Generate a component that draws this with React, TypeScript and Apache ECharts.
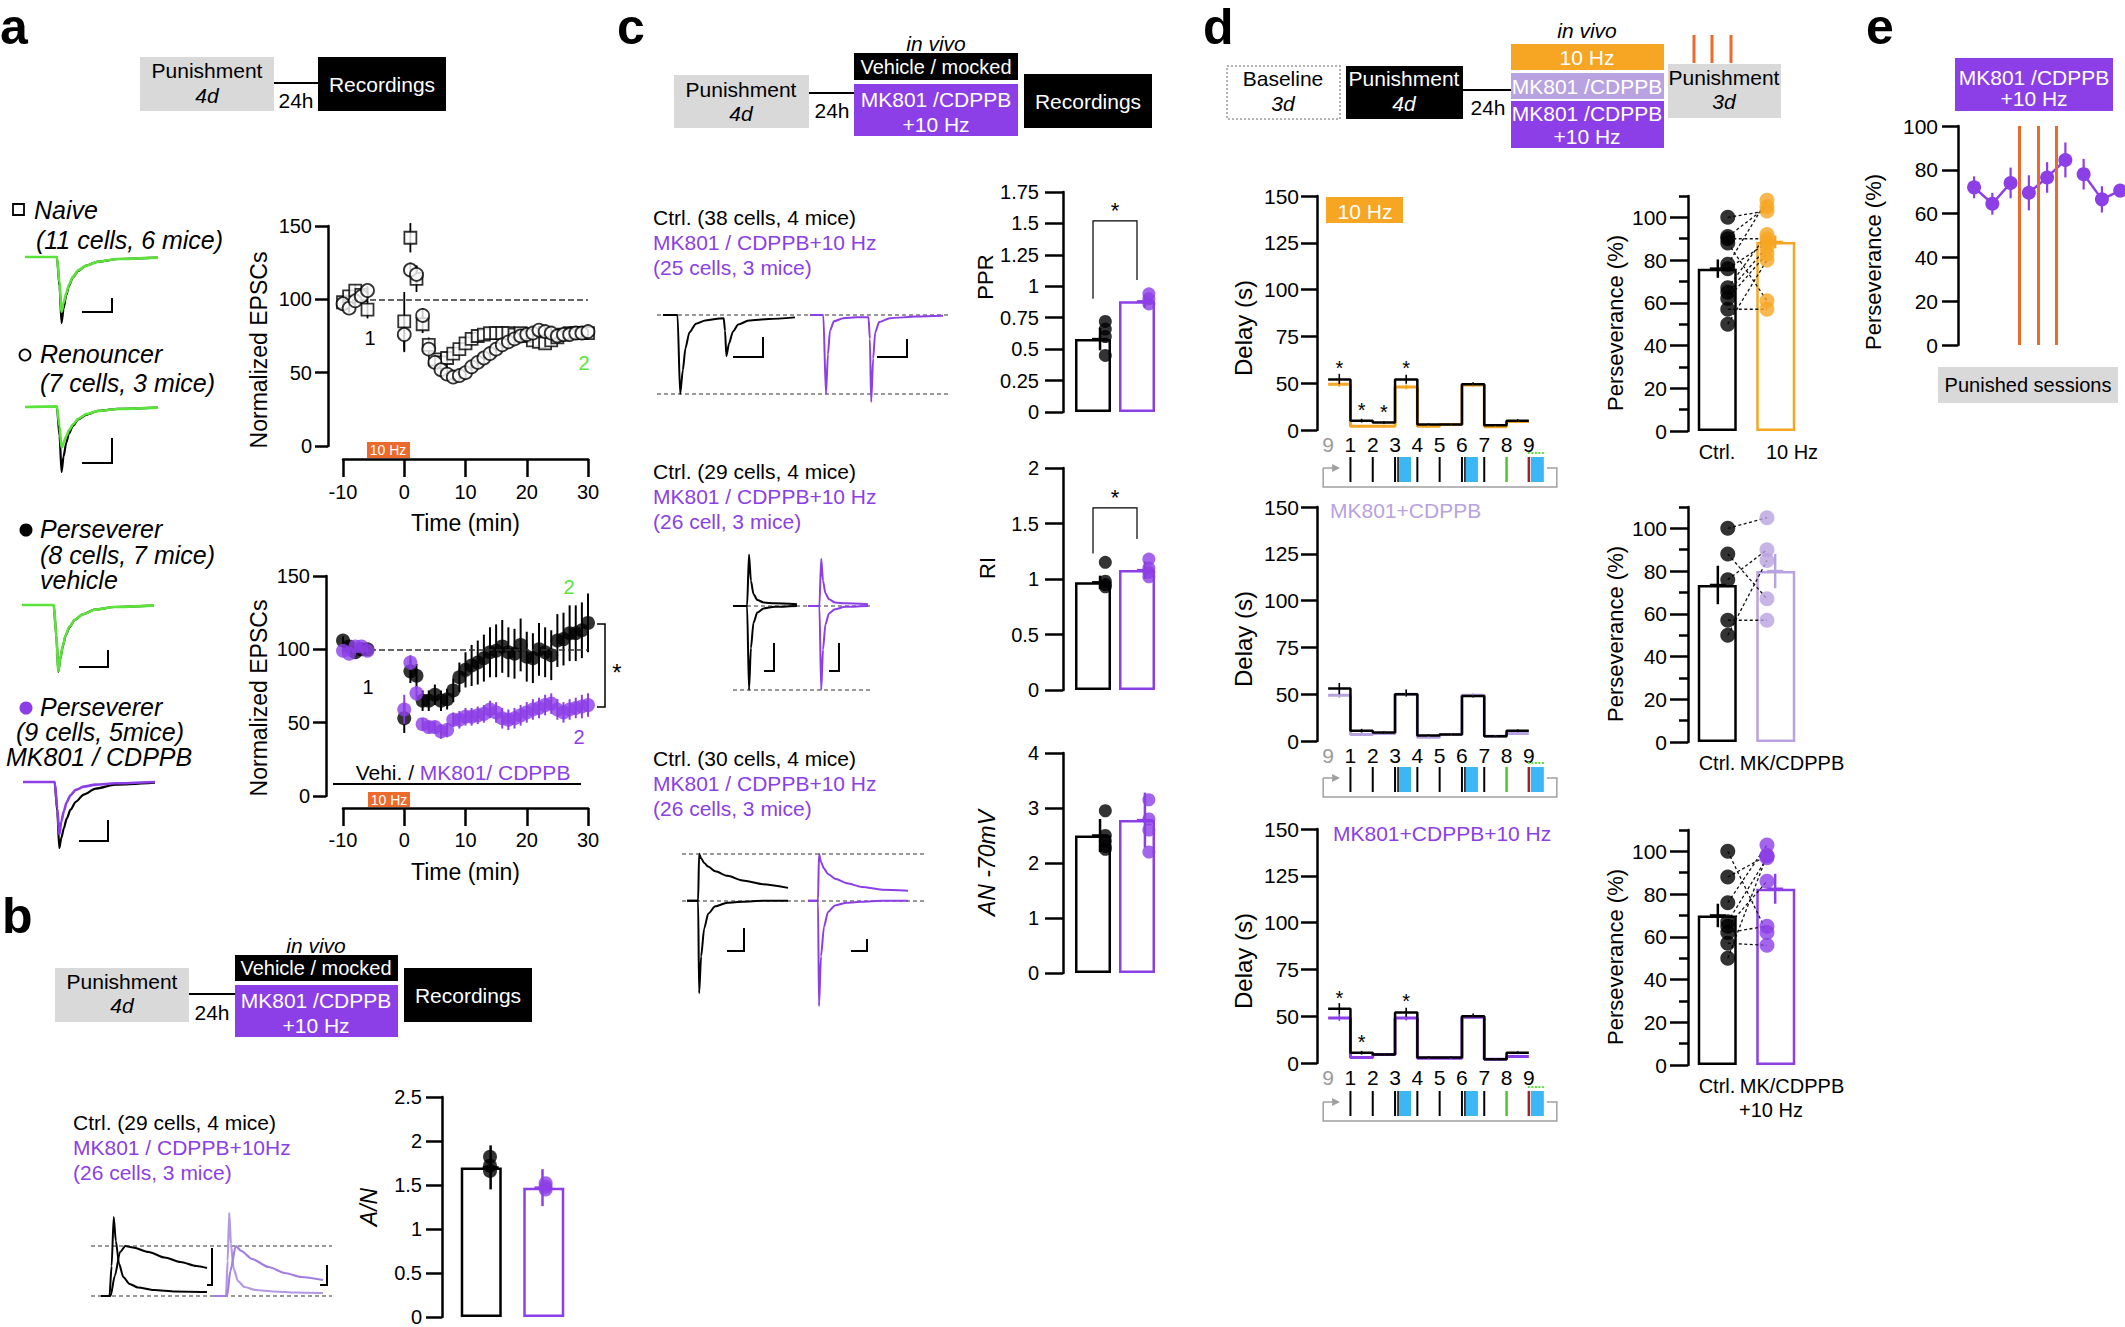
import React, { useEffect, useRef } from "react";
import * as echarts from "echarts";

const F = "Liberation Sans";
const BLACK = "#000000";
const PURPLE = "#8C3FE6";
const LAVENDER = "#B9A2E0";
const ORANGE = "#F6A623";
const RED_ORANGE = "#EC6A2C";
const GREEN = "#5BE33C";
const BLUE = "#3CB6F5";
const GRAYBOX = "#D9D9D9";

// ---------------- panel a : time courses ----------------
const aBaseT = [-10, -9, -8, -7, -6];
const aPostT = [0, 1, 2, 3, 4, 5, 6, 7, 8, 9, 10, 11, 12, 13, 14, 15, 16, 17, 18, 19, 20, 21, 22, 23, 24, 25, 26, 27, 28, 29, 30];
const naiveBase = [98, 102, 106, 103, 93];
const naiveBaseErr = [3, 3, 4, 3, 6];
const naivePost = [85, 142, 114, 83, 69, 59, 57, 60, 63, 66, 70, 73, 75, 76, 77, 77, 77, 77, 76, 77, 75, 72, 71, 70, 72, 74, 76, 77, 77, 77, 77];
const naivePostErr = [20, 10, 9, 6, 5, 4, 4, 4, 4, 4, 4, 4, 4, 4, 4, 4, 4, 3, 3, 3, 3, 3, 3, 3, 3, 3, 3, 2, 2, 2, 2];
const renBase = [97, 94, 99, 102, 106];
const renBaseErr = [3, 3, 3, 3, 3];
const renPost = [76, 120, 117, 89, 66, 57, 52, 49, 47, 48, 50, 54, 57, 60, 63, 66, 69, 71, 73, 75, 76, 77, 79, 78, 77, 75, 76, 76, 77, 77, 78];
const renPostErr = [12, 5, 6, 5, 4, 4, 3, 3, 3, 3, 3, 3, 3, 3, 3, 3, 3, 3, 3, 3, 3, 3, 3, 3, 3, 3, 2, 2, 2, 2, 2];
const pvBase = [106, 102, 98, 100, 100];
const pvBaseErr = [3, 3, 3, 3, 3];
const pvPost = [53, 85, 82, 65, 65, 69, 65, 66, 72, 81, 86, 89, 91, 94, 98, 99, 102, 98, 97, 103, 95, 94, 100, 98, 96, 106, 107, 111, 111, 113, 118];
const pvPostErr = [10, 8, 8, 7, 7, 7, 7, 7, 8, 10, 12, 14, 15, 16, 17, 18, 18, 17, 17, 18, 17, 17, 18, 17, 17, 18, 18, 19, 19, 19, 20];
const pmBase = [99, 97, 102, 102, 99];
const pmBaseErr = [2, 2, 2, 2, 2];
const pmPost = [59, 91, 70, 49, 47, 47, 44, 45, 52, 52, 54, 54, 55, 56, 59, 57, 53, 52, 53, 55, 57, 59, 60, 62, 63, 59, 57, 59, 60, 61, 62];
const pmPostErr = [10, 5, 5, 4, 4, 4, 5, 5, 5, 6, 6, 6, 6, 6, 6, 7, 7, 7, 7, 7, 7, 7, 7, 7, 7, 7, 7, 7, 7, 8, 8];

// panel a example EPSC traces (normalised amplitude)
const epscT = [0, 24, 26, 27.5, 29, 31, 33, 36, 40, 46, 55, 70, 100];
const naiveBlackTr = [0, 0, -45, -100, -78, -58, -44, -31, -21, -13, -7, -3, -1];
const naiveGreenTr = [0, 0, -40, -83, -70, -55, -42, -30, -20, -13, -7, -3, -1];
const renBlackTr = [0, 0, -45, -100, -76, -55, -41, -29, -19, -12, -6, -3, -1];
const renGreenTr = [0, 1, -30, -63, -55, -45, -36, -27, -18, -11, -6, -3, -1];
const pvBlackTr = [0, 0, -45, -100, -80, -61, -46, -33, -22, -14, -7, -3, -1];
const pvGreenTr = [0, 0, -45, -99, -79, -60, -45, -32, -22, -14, -7, -3, -1];
const pmBlackTr = [0, 0, -45, -100, -85, -70, -56, -42, -30, -19, -10, -4, -1];
const pmPurpleTr = [0, 0, -40, -80, -60, -44, -31, -20, -12, -7, -4, -2, 0];

// ---------------- panel b ----------------
const bFastT = [0, 8, 10, 12, 14, 17, 21, 27, 35, 50, 70, 100];
const bBlackFast = [0, 0, 60, 158, 110, 65, 38, 24, 17, 12, 9, 8];
const bSlowT = [0, 9, 13, 18, 23, 30, 45, 60, 75, 90, 100];
const bBlackSlow = [0, 0, 40, 88, 100, 97, 88, 77, 68, 60, 56];
const bPFastT = [0, 11, 12.5, 14, 15.5, 18, 22, 28, 38, 55, 75, 100];
const bPurpleFast = [0, 0, 70, 166, 105, 55, 30, 18, 12, 9, 7, 6];
const bPSlowT = [0, 12, 15, 20, 25, 35, 50, 65, 80, 100];
const bPurpleSlow = [0, 0, 50, 100, 90, 74, 58, 46, 38, 32];
const anRatioCtrl = { mean: 1.7, sem: 0.25, dots: [1.82, 1.72, 1.66] };
const anRatioMk = { mean: 1.47, sem: 0.21, dots: [1.52, 1.48, 1.45] };

// ---------------- panel c ----------------
const pprBT = [0, 11, 13, 15, 17, 20, 25, 32, 40, 46, 47, 48, 50, 53, 57, 65, 80, 100];
const pprB = [0, 0, -100, -70, -42, -22, -11, -7, -5, -4, -20, -52, -36, -21, -12, -7, -5, -3];
const pprPT = [0, 10, 12, 13.5, 15, 18, 25, 35, 44, 45, 46, 47.5, 49, 52, 60, 80, 100];
const pprP = [0, 0, -100, -50, -20, -8, -4, -3, -3, -30, -110, -55, -22, -9, -4, -2, -1];
const riBT = [0, 22, 25, 28, 32, 38, 48, 65, 100];
const riBUp = [0, 0, 61, 30, 14, 7, 4, 3, 2];
const riBDown = [0, 0, -100, -50, -20, -8, -3, -1, 0];
const riPT = [0, 19, 22, 25, 29, 35, 45, 62, 100];
const riPUp = [0, 0, 56, 30, 15, 8, 4, 3, 2];
const riPDown = [0, 0, -100, -52, -22, -9, -4, -1, 0];
const anBT = [0, 11, 12, 14, 17, 21, 28, 40, 55, 75, 100];
const anBUp = [0, 0, 51, 46, 41, 37, 32, 27, 22, 18, 14];
const anBDown = [0, 0, -100, -60, -30, -14, -6, -2, -1, 0, 0];
const anPT = [0, 10, 11, 13, 16, 20, 27, 39, 54, 74, 100];
const anPUp = [0, 0, 51, 42, 35, 29, 24, 19, 15, 12, 11];
const anPDown = [0, 0, -114, -60, -28, -12, -5, -2, -1, 0, 0];
const pprCtrl = { mean: 0.58, sem: 0.09, dots: [0.72, 0.66, 0.6, 0.45] };
const pprMk = { mean: 0.88, sem: 0.05, dots: [0.94, 0.9, 0.86] };
const riCtrl = { mean: 0.97, sem: 0.06, dots: [1.15, 0.98, 0.95, 0.93] };
const riMk = { mean: 1.08, sem: 0.08, dots: [1.18, 1.1, 1.06, 1.02] };
const anCtrl = { mean: 2.5, sem: 0.3, dots: [2.95, 2.5, 2.4, 2.3, 2.25] };
const anMk = { mean: 2.78, sem: 0.5, dots: [3.15, 2.8, 2.6, 2.2] };

// ---------------- panel d ----------------
const delayLabels = ["9", "1", "2", "3", "4", "5", "6", "7", "8", "9"];
const delayCtrl1 = [52, 10, 8, 52, 6, 6, 49, 5, 10];
const delayStim1 = [49, 4, 4, 46, 4, 6, 48, 3.5, 9];
const delayCtrl2 = [53, 11, 9, 50, 6, 7, 48, 5, 11];
const delayStim2 = [49, 7, 8, 50, 4, 7, 49, 5, 8];
const delayCtrl3 = [54, 11, 9, 52, 6, 6, 50, 4, 11];
const delayStim3 = [48, 6, 9, 48, 5, 5, 49, 4, 7];
const delayErrCtrl = [3, 2, 1.5, 2.5, 1, 1, 1.5, 1, 1.5];
const delayErrStim = [3, 1.5, 1.5, 2.5, 1, 1, 1.5, 1, 1.5];
const delayStars1 = [0, 1, 2, 3];
const delayStars3 = [0, 1, 3];

const pers10Ctrl = { mean: 76, sem: 4.3, dots: [100, 91, 90, 88, 78, 76, 67, 65, 62, 57, 50] };
const pers10Stim = { mean: 88.5, sem: 3, dots: [103, 105, 90, 61, 108, 88, 92, 86, 83, 57, 80] };
const persMkCtrl = { mean: 73.5, sem: 9, dots: [100, 88, 76, 57, 50] };
const persMkStim = { mean: 80, sem: 8, dots: [105, 67, 90, 57, 85] };
const persMk10Ctrl = { mean: 70, sem: 5.5, dots: [100, 88, 76, 67, 65, 62, 57, 50] };
const persMk10Stim = { mean: 82.5, sem: 7, dots: [62, 98, 103, 97, 86, 65, 56, 98] };

// ---------------- panel e ----------------
const eSessions = [1, 2, 3, 4, 5, 6, 7, 8, 9];
const eVals = [72, 64.5, 74, 69.5, 76.5, 84.5, 78, 66.5, 70.5];
const eErr = [5, 5, 7, 8, 7, 8, 7, 6, 3];
const eStimLines = [3.5, 4.5, 5.5];

function toDisp(v: number) {
  return v <= 50 ? v / 2 : v - 25;
}

function buildOption() {
  const grid: any[] = [];
  const xAxis: any[] = [];
  const yAxis: any[] = [];
  const series: any[] = [];
  const graphic: any[] = [];
  const AX = { color: BLACK, width: 2.5 };

  const G = (g: any) => { grid.push(g); return grid.length - 1; };
  const X = (a: any) => { xAxis.push(a); return xAxis.length - 1; };
  const Y = (a: any) => { yAxis.push(a); return yAxis.length - 1; };
  const hiddenX = (gi: number, min: number, max: number) => X({ type: "value", gridIndex: gi, min, max, show: false });
  const hiddenY = (gi: number, min: number, max: number) => Y({ type: "value", gridIndex: gi, min, max, show: false });

  const leftY = (gi: number, o: any) => Y({
    type: "value", gridIndex: gi, position: "left", min: o.min, max: o.max, interval: o.interval, offset: o.offset || 0,
    axisLine: { show: true, onZero: false, lineStyle: AX },
    axisTick: Object.assign({ show: true, length: o.tick, lineStyle: AX }, o.tickValues ? { customValues: o.tickValues } : {}),
    axisLabel: Object.assign({ show: true, margin: o.margin, fontSize: o.fs || 20, color: BLACK, fontFamily: F }, o.fmt ? { formatter: o.fmt } : {}, o.tickValues ? { customValues: o.tickValues } : {}),
    splitLine: { show: false },
    name: o.name || "", nameLocation: "middle", nameGap: o.nameGap || 40,
    nameTextStyle: { fontSize: o.nameSize || 23, color: BLACK, fontFamily: F, fontStyle: o.nameItalic ? "italic" : "normal" },
  });

  const bottomX = (gi: number, o: any) => X({
    type: "value", gridIndex: gi, min: -10, max: 30, interval: 10, offset: o.offset,
    axisLine: { show: true, onZero: false, lineStyle: AX },
    axisTick: { show: true, length: 18, lineStyle: AX },
    axisLabel: { margin: o.margin, fontSize: 20, color: BLACK, fontFamily: F },
    splitLine: { show: false },
    name: "Time (min)", nameLocation: "middle", nameGap: 52,
    nameTextStyle: { fontSize: 23, color: BLACK, fontFamily: F },
  });

  const errItem = (color: string, cap: number, lw = 2) => (params: any, api: any) => {
    const x = api.value(0);
    const a = api.coord([x, api.value(1)]);
    const b = api.coord([x, api.value(2)]);
    const ch: any[] = [{ type: "line", shape: { x1: a[0], y1: a[1], x2: b[0], y2: b[1] }, style: { stroke: color, lineWidth: lw } }];
    if (cap > 0) {
      const m = api.coord([x, api.value(3)]);
      ch.push({ type: "line", shape: { x1: m[0] - cap, y1: m[1], x2: m[0] + cap, y2: m[1] }, style: { stroke: color, lineWidth: lw } });
    }
    return { type: "group", children: ch };
  };

  const T = (text: string, x: number, y: number, o: any = {}) => ({
    type: "text", x, y, z: 10, silent: true, rotation: o.rot || 0,
    style: Object.assign({
      text, fill: o.fill || BLACK, fontSize: o.size || 20, fontFamily: F,
      fontStyle: o.italic ? "italic" : "normal", fontWeight: o.bold ? "bold" : "normal",
      align: o.align || "center", verticalAlign: "middle",
      textAlign: o.align || "center", textVerticalAlign: "middle",
    }, o.rich ? { rich: o.rich } : {}),
  });
  const TR = (text: string, x: number, y: number, o: any = {}) => T(text, x, y, Object.assign({ rot: Math.PI / 2 }, o));
  const R = (x: number, y: number, w: number, h: number, fill: string, o: any = {}) => ({
    type: "rect", z: 1, silent: true, shape: { x, y, width: w, height: h },
    style: { fill, stroke: o.stroke || null, lineWidth: o.lw || 0, lineDash: o.dash || null },
  });
  const L = (x1: number, y1: number, x2: number, y2: number, stroke = BLACK, lw = 2, dash: any = null) => ({
    type: "line", z: 2, silent: true, shape: { x1, y1, x2, y2 }, style: { stroke, lineWidth: lw, lineDash: dash },
  });
  const PL = (points: number[][], stroke = BLACK, lw = 2) => ({
    type: "polyline", z: 2, silent: true, shape: { points }, style: { stroke, lineWidth: lw, fill: null },
  });

  const zip = (ts: number[], vs: number[]) => ts.map((t, i) => [t, vs[i]]);
  const errData = (ts: number[], vs: number[], es: number[]) => ts.map((t, i) => [t, vs[i] - es[i], vs[i] + es[i]]);

  // ======================= PANEL A =======================
  graphic.push(T("a", 0, 27, { size: 50, bold: true, align: "left" }));
  graphic.push(R(140, 57, 134, 54, GRAYBOX));
  graphic.push(T("Punishment", 207, 70, { size: 21 }));
  graphic.push(T("4d", 207, 95, { italic: true, size: 21 }));
  graphic.push(L(274, 83, 318, 83));
  graphic.push(T("24h", 296, 100, { size: 21 }));
  graphic.push(R(318, 57, 128, 54, BLACK));
  graphic.push(T("Recordings", 382, 84, { fill: "#fff", size: 21 }));

  const aT = aBaseT.concat(aPostT);
  {
    const g = G({ left: 343, top: 226, width: 245, height: 220 });
    const xi = bottomX(g, { offset: 13, margin: 23 });
    const yi = leftY(g, { min: 0, max: 150, interval: 50, offset: 15, tick: 13, margin: 16 });
    series.push({ type: "custom", xAxisIndex: xi, yAxisIndex: yi, renderItem: errItem(BLACK, 0, 1.8), data: errData(aT, naiveBase.concat(naivePost), naiveBaseErr.concat(naivePostErr)), encode: { x: 0, y: [1, 2] }, z: 2 });
    series.push({ type: "custom", xAxisIndex: xi, yAxisIndex: yi, renderItem: errItem(BLACK, 0, 1.8), data: errData(aT, renBase.concat(renPost), renBaseErr.concat(renPostErr)), encode: { x: 0, y: [1, 2] }, z: 2 });
    series.push({
      type: "scatter", xAxisIndex: xi, yAxisIndex: yi, clip: false, z: 4, symbol: "rect", symbolSize: 12,
      itemStyle: { color: "#fff", borderColor: BLACK, borderWidth: 1.8 }, data: zip(aT, naiveBase.concat(naivePost)),
      markLine: { silent: true, symbol: "none", label: { show: false }, lineStyle: { type: "dashed", color: "#333", width: 1.5 }, data: [{ yAxis: 100 }] },
    });
    series.push({
      type: "scatter", xAxisIndex: xi, yAxisIndex: yi, clip: false, z: 5, symbol: "circle", symbolSize: 13,
      itemStyle: { color: "#fff", borderColor: BLACK, borderWidth: 1.8 }, data: zip(aT, renBase.concat(renPost)),
    });
  }
  graphic.push(TR("Normalized EPSCs", 259, 350, { size: 23 }));
  graphic.push(R(367, 442, 43, 16, RED_ORANGE));
  graphic.push(T("10 Hz", 388, 450, { fill: "#fff", size: 14 }));
  graphic.push(T("1", 370, 338));
  graphic.push(T("2", 584, 363, { fill: GREEN }));

  {
    const g = G({ left: 343, top: 576, width: 245, height: 220 });
    const xi = bottomX(g, { offset: 12, margin: 22 });
    const yi = leftY(g, { min: 0, max: 150, interval: 50, offset: 17, tick: 13, margin: 16 });
    series.push({ type: "custom", xAxisIndex: xi, yAxisIndex: yi, renderItem: errItem(BLACK, 0, 2), data: errData(aT, pvBase.concat(pvPost), pvBaseErr.concat(pvPostErr)), encode: { x: 0, y: [1, 2] }, z: 2 });
    series.push({
      type: "scatter", xAxisIndex: xi, yAxisIndex: yi, clip: false, z: 3, symbol: "circle", symbolSize: 14,
      itemStyle: { color: BLACK }, data: zip(aT, pvBase.concat(pvPost)),
      markLine: { silent: true, symbol: "none", label: { show: false }, lineStyle: { type: "dashed", color: "#333", width: 1.5 }, data: [{ yAxis: 100 }] },
    });
    series.push({ type: "custom", xAxisIndex: xi, yAxisIndex: yi, renderItem: errItem(PURPLE, 0, 2), data: errData(aT, pmBase.concat(pmPost), pmBaseErr.concat(pmPostErr)), encode: { x: 0, y: [1, 2] }, z: 4 });
    series.push({
      type: "scatter", xAxisIndex: xi, yAxisIndex: yi, clip: false, z: 5, symbol: "circle", symbolSize: 14,
      itemStyle: { color: PURPLE }, data: zip(aT, pmBase.concat(pmPost)),
    });
  }
  graphic.push(TR("Normalized EPSCs", 259, 698, { size: 23 }));
  graphic.push(T("{k|Vehi. / }{p|MK801/ CDPPB}", 463, 772, {
    rich: { k: { fill: BLACK, color: BLACK, fontSize: 21, fontFamily: F }, p: { fill: PURPLE, color: PURPLE, fontSize: 21, fontFamily: F } },
  }));
  graphic.push(L(333, 784, 581, 784));
  graphic.push(R(368, 792, 42, 15, RED_ORANGE));
  graphic.push(T("10 Hz", 389, 800, { fill: "#fff", size: 14 }));
  graphic.push(T("1", 368, 687));
  graphic.push(T("2", 569, 587, { fill: GREEN }));
  graphic.push(T("2", 579, 737, { fill: PURPLE }));
  graphic.push(PL([[597, 624], [605, 624], [605, 707], [597, 707]], BLACK, 1.5));
  graphic.push(T("*", 617, 672, { size: 24 }));

  // legend texts
  graphic.push(R(13, 204, 11, 11, "#fff", { stroke: BLACK, lw: 1.8 }));
  graphic.push(T("Naive", 34, 210, { italic: true, size: 25, align: "left" }));
  graphic.push(T("(11 cells, 6 mice)", 36, 240, { italic: true, size: 25, align: "left" }));
  graphic.push({ type: "circle", z: 2, shape: { cx: 25, cy: 355, r: 5.5 }, style: { fill: "#fff", stroke: BLACK, lineWidth: 1.8 } });
  graphic.push(T("Renouncer", 40, 354, { italic: true, size: 25, align: "left" }));
  graphic.push(T("(7 cells, 3 mice)", 40, 383, { italic: true, size: 25, align: "left" }));
  graphic.push({ type: "circle", z: 2, shape: { cx: 26, cy: 530, r: 6.5 }, style: { fill: BLACK } });
  graphic.push(T("Perseverer", 40, 529, { italic: true, size: 25, align: "left" }));
  graphic.push(T("(8 cells, 7 mice)", 40, 555, { italic: true, size: 25, align: "left" }));
  graphic.push(T("vehicle", 40, 580, { italic: true, size: 25, align: "left" }));
  graphic.push({ type: "circle", z: 2, shape: { cx: 26, cy: 708, r: 6.5 }, style: { fill: PURPLE } });
  graphic.push(T("Perseverer", 40, 707, { italic: true, size: 25, align: "left" }));
  graphic.push(T("(9 cells, 5mice)", 16, 732, { italic: true, size: 25, align: "left" }));
  graphic.push(T("MK801 / CDPPB", 6, 757, { italic: true, size: 25, align: "left" }));

  // traces
  const traceGrid = (left: number, top: number, width: number, height: number, xmin: number, xmax: number, ymin: number, ymax: number) => {
    const g = G({ left, top, width, height });
    return { x: hiddenX(g, xmin, xmax), y: hiddenY(g, ymin, ymax) };
  };
  const traceLine = (ax: any, ts: number[], vs: number[], color: string, width = 2, z = 3) => {
    series.push({ type: "line", xAxisIndex: ax.x, yAxisIndex: ax.y, data: zip(ts, vs), symbol: "none", showSymbol: false, smooth: 0.25, smoothMonotone: "x", lineStyle: { color, width }, clip: false, z, silent: true });
  };
  {
    const t1 = traceGrid(25, 257, 133, 66, 0, 100, -100, 0);
    traceLine(t1, epscT, naiveBlackTr, BLACK, 2.2, 3);
    traceLine(t1, epscT, naiveGreenTr, GREEN, 2.6, 4);
    const t2 = traceGrid(25, 407, 133, 65, 0, 100, -100, 0);
    traceLine(t2, epscT, renBlackTr, BLACK, 2.2, 3);
    traceLine(t2, epscT, renGreenTr, GREEN, 2.6, 4);
    const t3 = traceGrid(22, 605, 132, 67, 0, 100, -100, 0);
    traceLine(t3, epscT, pvBlackTr, BLACK, 2.2, 3);
    traceLine(t3, epscT, pvGreenTr, GREEN, 2.6, 4);
    const t4 = traceGrid(23, 782, 132, 66, 0, 100, -100, 0);
    traceLine(t4, epscT, pmBlackTr, BLACK, 2.2, 3);
    traceLine(t4, epscT, pmPurpleTr, PURPLE, 2.6, 4);
  }
  graphic.push(PL([[82, 312], [112, 312], [112, 298]]));
  graphic.push(PL([[82, 463], [112, 463], [112, 438]]));
  graphic.push(PL([[79, 667], [108, 667], [108, 650]]));
  graphic.push(PL([[79, 841], [108, 841], [108, 820]]));

  // ======================= PANEL B =======================
  graphic.push(T("b", 2, 916, { size: 50, bold: true, align: "left" }));
  graphic.push(R(55, 968, 134, 54, GRAYBOX));
  graphic.push(T("Punishment", 122, 981, { size: 21 }));
  graphic.push(T("4d", 122, 1005, { italic: true, size: 21 }));
  graphic.push(L(189, 994, 235, 994));
  graphic.push(T("24h", 212, 1012, { size: 21 }));
  graphic.push(T("in vivo", 316, 945, { italic: true, size: 21 }));
  graphic.push(R(235, 955, 163, 26, BLACK));
  graphic.push(T("Vehicle / mocked", 316, 968, { fill: "#fff", size: 20 }));
  graphic.push(R(235, 985, 163, 52, PURPLE));
  graphic.push(T("MK801 /CDPPB", 316, 1000, { fill: "#fff", size: 21 }));
  graphic.push(T("+10 Hz", 316, 1025, { fill: "#fff", size: 21 }));
  graphic.push(R(404, 968, 128, 54, BLACK));
  graphic.push(T("Recordings", 468, 995, { fill: "#fff", size: 21 }));
  graphic.push(T("Ctrl. (29 cells, 4 mice)", 73, 1122, { size: 21, align: "left" }));
  graphic.push(T("MK801 / CDPPB+10Hz", 73, 1147, { size: 21, align: "left", fill: PURPLE }));
  graphic.push(T("(26 cells, 3 mice)", 73, 1172, { size: 21, align: "left", fill: PURPLE }));
  graphic.push(L(91, 1246, 332, 1246, "#333", 1.2, [4, 3]));
  graphic.push(L(91, 1296, 332, 1296, "#333", 1.2, [4, 3]));
  {
    const tb = traceGrid(101, 1196, 106, 100, 0, 100, 0, 200);
    traceLine(tb, bFastT, bBlackFast, BLACK, 2);
    traceLine(tb, bSlowT, bBlackSlow, BLACK, 2);
    const tp = traceGrid(214, 1196, 109, 100, 0, 100, 0, 200);
    traceLine(tp, bPFastT, bPurpleFast, "#B497E6", 2.2);
    traceLine(tp, bPSlowT, bPurpleSlow, "#A27EE2", 2.2);
  }
  graphic.push(PL([[207, 1285], [212, 1285], [212, 1248]]));
  graphic.push(PL([[320, 1285], [327, 1285], [327, 1265]]));

  const barPanel = (o: any) => {
    const g = G({ left: o.left, top: o.top, width: o.width, height: o.height });
    const xc = X({
      type: "category", gridIndex: g, data: o.cats, boundaryGap: true,
      axisLine: { show: false }, axisTick: { show: false },
      axisLabel: { show: !!o.showCats, interval: 0, margin: 10, fontSize: 20, color: BLACK, fontFamily: F, lineHeight: 25 },
    });
    const xv = hiddenX(g, 0, 2);
    const yi = leftY(g, o.y);
    if (o.minorTicks) {
      Y({
        type: "value", gridIndex: g, position: "left", min: o.y.min, max: o.y.max, interval: 10,
        axisLine: { show: false }, axisTick: { show: true, length: 9, lineStyle: AX, customValues: o.minorTicks },
        axisLabel: { show: false }, splitLine: { show: false },
      });
    }
    series.push({
      type: "bar", xAxisIndex: xc, yAxisIndex: yi, barWidth: o.barWidth, z: 2, silent: true,
      data: o.groups.map((gr: any) => ({ value: gr.mean, itemStyle: { color: "#fff", borderColor: gr.color, borderWidth: 2.5 } })),
    });
    if (o.pairs) {
      const p0 = o.dotX[0], p1 = 1 + o.dotX[1];
      series.push({
        type: "custom", xAxisIndex: xv, yAxisIndex: yi, z: 3, silent: true,
        data: o.groups[0].dots.map((v: number, i: number) => [v, o.groups[1].dots[i]]),
        renderItem: (params: any, api: any) => {
          const a = api.coord([p0, api.value(0)]);
          const b = api.coord([p1, api.value(1)]);
          return { type: "line", shape: { x1: a[0], y1: a[1], x2: b[0], y2: b[1] }, style: { stroke: "#111", lineWidth: 1.3, lineDash: [3, 2.5] } };
        },
      });
    }
    o.groups.forEach((gr: any, i: number) => {
      series.push({
        type: "scatter", xAxisIndex: xv, yAxisIndex: yi, clip: false, z: 4, silent: true, symbolSize: o.dotSize,
        itemStyle: { color: gr.color }, data: gr.dots.map((v: number) => [i + o.dotX[i], v]),
      });
      series.push({
        type: "custom", xAxisIndex: xv, yAxisIndex: yi, z: 5, silent: true, renderItem: errItem(gr.color, o.cap, 2.5),
        data: [[i + o.errX[i], gr.mean - gr.sem, gr.mean + gr.sem, gr.mean]], encode: { x: 0, y: [1, 2] },
      });
    });
    return { g, xv, yi };
  };

  barPanel({
    left: 450, top: 1097, width: 125, height: 220, barWidth: 41, dotSize: 14, cap: 8,
    cats: ["Ctrl.", "MK801 / CDPPB+10Hz"], dotX: [0.64, 0.53], errX: [0.65, 0.48],
    y: { min: 0, max: 2.5, interval: 0.5, offset: 8, tick: 16, margin: 20, name: "A/N", nameItalic: true, nameGap: 62 },
    groups: [Object.assign({ color: BLACK }, anRatioCtrl), Object.assign({ color: PURPLE }, anRatioMk)],
  });

  // ======================= PANEL C =======================
  graphic.push(T("c", 617, 27, { size: 50, bold: true, align: "left" }));
  graphic.push(R(674, 75, 135, 53, GRAYBOX));
  graphic.push(T("Punishment", 741, 89, { size: 21 }));
  graphic.push(T("4d", 741, 113, { italic: true, size: 21 }));
  graphic.push(L(809, 93, 854, 93));
  graphic.push(T("24h", 832, 110, { size: 21 }));
  graphic.push(T("in vivo", 936, 43, { italic: true, size: 21 }));
  graphic.push(R(854, 53, 164, 27, BLACK));
  graphic.push(T("Vehicle / mocked", 936, 67, { fill: "#fff", size: 20 }));
  graphic.push(R(854, 84, 164, 52, PURPLE));
  graphic.push(T("MK801 /CDPPB", 936, 99, { fill: "#fff", size: 21 }));
  graphic.push(T("+10 Hz", 936, 124, { fill: "#fff", size: 21 }));
  graphic.push(R(1024, 74, 128, 54, BLACK));
  graphic.push(T("Recordings", 1088, 101, { fill: "#fff", size: 21 }));

  const cText = (y: number, l1: string, l2: string, l3: string) => {
    graphic.push(T(l1, 653, y, { size: 21, align: "left" }));
    graphic.push(T(l2, 653, y + 25, { size: 21, align: "left", fill: PURPLE }));
    graphic.push(T(l3, 653, y + 50, { size: 21, align: "left", fill: PURPLE }));
  };
  cText(217, "Ctrl. (38 cells, 4 mice)", "MK801 / CDPPB+10 Hz", "(25 cells, 3 mice)");
  cText(471, "Ctrl. (29 cells, 4 mice)", "MK801 / CDPPB+10 Hz", "(26 cell, 3 mice)");
  cText(758, "Ctrl. (30 cells, 4 mice)", "MK801 / CDPPB+10 Hz", "(26 cells, 3 mice)");

  graphic.push(L(657, 315, 948, 315, "#333", 1.2, [4, 3]));
  graphic.push(L(657, 394, 948, 394, "#333", 1.2, [4, 3]));
  graphic.push(L(733, 606, 873, 606, "#333", 1.2, [4, 3]));
  graphic.push(L(733, 690, 873, 690, "#333", 1.2, [4, 3]));
  graphic.push(L(682, 854, 925, 854, "#333", 1.2, [4, 3]));
  graphic.push(L(682, 901, 925, 901, "#333", 1.2, [4, 3]));
  {
    const pb = traceGrid(663, 315, 132, 87, 0, 100, -110, 0);
    traceLine(pb, pprBT, pprB, BLACK, 2);
    const pp = traceGrid(810, 315, 133, 87, 0, 100, -110, 0);
    traceLine(pp, pprPT, pprP, PURPLE, 2);
    const rb = traceGrid(733, 547, 64, 143, 0, 100, -100, 70);
    traceLine(rb, riBT, riBUp, BLACK, 2);
    traceLine(rb, riBT, riBDown, BLACK, 2);
    const rp = traceGrid(808, 547, 60, 143, 0, 100, -100, 70);
    traceLine(rp, riPT, riPUp, PURPLE, 2);
    traceLine(rp, riPT, riPDown, PURPLE, 2);
    const ab = traceGrid(687, 850, 101, 157, 0, 100, -115, 55);
    traceLine(ab, anBT, anBUp, BLACK, 2);
    traceLine(ab, anBT, anBDown, BLACK, 2);
    const ap = traceGrid(808, 850, 100, 157, 0, 100, -115, 55);
    traceLine(ap, anPT, anPUp, PURPLE, 2);
    traceLine(ap, anPT, anPDown, PURPLE, 2);
  }
  graphic.push(PL([[733, 357], [763, 357], [763, 337]]));
  graphic.push(PL([[877, 357], [907, 357], [907, 339]]));
  graphic.push(PL([[764, 671], [774, 671], [774, 643]]));
  graphic.push(PL([[829, 671], [839, 671], [839, 643]]));
  graphic.push(PL([[727, 951], [744, 951], [744, 928]]));
  graphic.push(PL([[851, 951], [867, 951], [867, 939]]));

  const bracket = (p: any, data: number[]) => {
    series.push({
      type: "custom", xAxisIndex: p.xv, yAxisIndex: p.yi, z: 6, silent: true, data: [data],
      renderItem: (params: any, api: any) => {
        const a = api.coord([api.value(0), api.value(3)]);
        const b = api.coord([api.value(0), api.value(2)]);
        const c = api.coord([api.value(1), api.value(2)]);
        const d = api.coord([api.value(1), api.value(4)]);
        return {
          type: "group", children: [
            { type: "polyline", shape: { points: [a, b, c, d] }, style: { stroke: BLACK, lineWidth: 1.2, fill: null } },
            { type: "text", x: (b[0] + c[0]) / 2, y: b[1] - 10, style: { text: "*", fill: BLACK, fontSize: 22, fontFamily: F, align: "center", verticalAlign: "middle", textAlign: "center", textVerticalAlign: "middle" } },
          ],
        };
      },
    });
  };
  const cCommon = { left: 1071, width: 88, barWidth: 36, dotSize: 13, cap: 8, cats: ["Ctrl.", "MK801 / CDPPB+10 Hz"], dotX: [0.78, 0.77], errX: [0.66, 0.68] };
  const ppr = barPanel(Object.assign({}, cCommon, {
    top: 192, height: 220,
    y: { min: 0, max: 1.75, interval: 0.25, offset: 8, tick: 18, margin: 24 },
    groups: [Object.assign({ color: BLACK }, pprCtrl), Object.assign({ color: PURPLE }, pprMk)],
  }));
  bracket(ppr, [0.5, 1.5, 1.52, 0.9, 1.05]);
  graphic.push(TR("PPR", 985, 277, { size: 22 }));
  const ri = barPanel(Object.assign({}, cCommon, {
    top: 468, height: 222,
    y: { min: 0, max: 2, interval: 0.5, offset: 8, tick: 18, margin: 24 },
    groups: [Object.assign({ color: BLACK }, riCtrl), Object.assign({ color: PURPLE }, riMk)],
  }));
  bracket(ri, [0.5, 1.5, 1.64, 1.23, 1.36]);
  graphic.push(TR("RI", 987, 568, { size: 22 }));
  barPanel(Object.assign({}, cCommon, {
    top: 753, height: 220,
    y: { min: 0, max: 4, interval: 1, offset: 8, tick: 18, margin: 24, name: "AN -70mV", nameItalic: true, nameGap: 65, nameSize: 23 },
    groups: [Object.assign({ color: BLACK }, anCtrl), Object.assign({ color: PURPLE }, anMk)],
  }));

  // ======================= PANEL D =======================
  graphic.push(T("d", 1203, 27, { size: 50, bold: true, align: "left" }));
  graphic.push(R(1227, 66, 113, 53, "#fff", { stroke: "#9a9a9a", lw: 1.5, dash: [2, 2] }));
  graphic.push(T("Baseline", 1283, 78, { size: 21 }));
  graphic.push(T("3d", 1283, 103, { italic: true, size: 21 }));
  graphic.push(R(1346, 66, 117, 53, BLACK));
  graphic.push(T("Punishment", 1404, 78, { fill: "#fff", size: 21 }));
  graphic.push(T("4d", 1404, 103, { fill: "#fff", italic: true, size: 21 }));
  graphic.push(L(1463, 90, 1511, 90));
  graphic.push(T("24h", 1488, 107, { size: 21 }));
  graphic.push(T("in vivo", 1587, 30, { italic: true, size: 21 }));
  graphic.push(R(1511, 44, 153, 26, ORANGE));
  graphic.push(T("10 Hz", 1587, 57, { fill: "#fff", size: 21 }));
  graphic.push(R(1511, 73, 153, 26, LAVENDER));
  graphic.push(T("MK801 /CDPPB", 1587, 86, { fill: "#fff", size: 21 }));
  graphic.push(R(1511, 101, 153, 47, PURPLE));
  graphic.push(T("MK801 /CDPPB", 1587, 113, { fill: "#fff", size: 21 }));
  graphic.push(T("+10 Hz", 1587, 136, { fill: "#fff", size: 21 }));
  graphic.push(R(1668, 64, 113, 54, GRAYBOX));
  graphic.push(T("Punishment", 1724, 77, { size: 21 }));
  graphic.push(T("3d", 1724, 101, { italic: true, size: 21 }));
  graphic.push(L(1694, 35, 1694, 63, RED_ORANGE, 3));
  graphic.push(L(1712, 35, 1712, 63, RED_ORANGE, 3));
  graphic.push(L(1731, 35, 1731, 63, RED_ORANGE, 3));

  const seqSchematic = (y0: number) => {
    const cw = 22.3;
    const cx = (i: number) => 1317 + (i + 0.5) * cw;
    const gray = "#a0a0a0";
    graphic.push(PL([[cx(0) - 5, y0 + 11], [cx(0) - 5, y0 + 30], [cx(9) + 28, y0 + 30], [cx(9) + 28, y0 + 11], [cx(9) + 18, y0 + 11]], gray, 1.5));
    graphic.push(L(cx(0) - 5, y0 + 11, cx(0) + 6, y0 + 11, gray, 1.5));
    graphic.push({ type: "polygon", z: 2, silent: true, shape: { points: [[cx(0) + 12, y0 + 11], [cx(0) + 4, y0 + 7], [cx(0) + 4, y0 + 15]] }, style: { fill: gray } });
    for (let i = 1; i <= 7; i++) graphic.push(L(cx(i), y0, cx(i), y0 + 25, BLACK, 2));
    [3, 6].forEach((i) => {
      graphic.push(L(cx(i) + 3, y0, cx(i) + 3, y0 + 25, BLACK, 1.5));
      graphic.push(R(cx(i) + 4, y0, 12, 25, BLUE));
    });
    graphic.push(L(cx(8), y0, cx(8), y0 + 25, "#4CC72A", 2.5));
    graphic.push(L(cx(9), y0, cx(9), y0 + 25, "#A0202A", 2.5));
    graphic.push(R(cx(9) + 2, y0, 13, 25, BLUE));
    graphic.push(L(cx(9) - 1, y0 - 4, cx(9) + 15, y0 - 4, GREEN, 2, [2, 1.5]));
  };

  const delayPanel = (top: number, ctrl: number[], stim: number[], color: string, stars: number[], schemY: number) => {
    const g = G({ left: 1317, top, width: 223, height: 234 });
    const xi = X({
      type: "category", gridIndex: g, data: delayLabels, boundaryGap: true,
      axisLine: { show: false }, axisTick: { show: false },
      axisLabel: { interval: 0, margin: 4, fontSize: 21, fontFamily: F, color: (v: any, i: number) => (i === 0 ? "#9a9a9a" : BLACK) },
    });
    const yi = leftY(g, { min: 0, max: 125, interval: 25, tick: 16, margin: 18, fs: 21, fmt: (v: number) => (v === 0 ? "0" : String(v + 25)) });
    const dS = stim.map(toDisp); dS.push(dS[dS.length - 1]);
    const dC = ctrl.map(toDisp); dC.push(dC[dC.length - 1]);
    series.push({ type: "line", xAxisIndex: xi, yAxisIndex: yi, step: "end", data: dS, symbol: "none", lineStyle: { color, width: 3 }, z: 3, silent: true });
    series.push({ type: "line", xAxisIndex: xi, yAxisIndex: yi, step: "end", data: dC, symbol: "none", lineStyle: { color: BLACK, width: 2.5 }, z: 4, silent: true });
    const tick = (vals: number[], errs: number[], c: string) => series.push({
      type: "custom", xAxisIndex: xi, yAxisIndex: yi, z: 5, silent: true,
      data: vals.map((v, i) => [i, toDisp(v - errs[i]), toDisp(v + errs[i])]),
      renderItem: (params: any, api: any) => {
        const i = api.value(0);
        const a = api.coord([i, api.value(1)]);
        const b = api.coord([i + 1, api.value(2)]);
        const mx = (a[0] + b[0]) / 2;
        return { type: "line", shape: { x1: mx, y1: a[1], x2: mx, y2: b[1] }, style: { stroke: c, lineWidth: 1.6 } };
      },
    });
    tick(stim, delayErrStim, color);
    tick(ctrl, delayErrCtrl, BLACK);
    series.push({
      type: "custom", xAxisIndex: xi, yAxisIndex: yi, z: 6, silent: true,
      data: stars.map((i) => [i, toDisp(ctrl[i])]),
      renderItem: (params: any, api: any) => {
        const i = api.value(0);
        const a = api.coord([i, api.value(1)]);
        const b = api.coord([i + 1, api.value(1)]);
        return { type: "text", x: (a[0] + b[0]) / 2, y: a[1] - 11, style: { text: "*", fill: BLACK, fontSize: 20, fontFamily: F, align: "center", verticalAlign: "middle", textAlign: "center", textVerticalAlign: "middle" } };
      },
    });
    seqSchematic(schemY);
    graphic.push(TR("Delay (s)", 1243, top + 132, { size: 24 }));
  };
  delayPanel(196, delayCtrl1, delayStim1, ORANGE, delayStars1, 457);
  delayPanel(507, delayCtrl2, delayStim2, LAVENDER, [], 767);
  delayPanel(829, delayCtrl3, delayStim3, PURPLE, delayStars3, 1091);
  graphic.push(R(1326, 197, 77, 26, ORANGE));
  graphic.push(T("10 Hz", 1365, 211, { fill: "#fff", size: 21 }));
  graphic.push(T("MK801+CDPPB", 1330, 510, { fill: LAVENDER, align: "left", size: 21 }));
  graphic.push(T("MK801+CDPPB+10 Hz", 1333, 833, { fill: PURPLE, align: "left", size: 21 }));

  const persCommon = {
    left: 1688, width: 117, barWidth: 39, dotSize: 15, cap: 8, pairs: true,
    dotX: [0.68, 0.35], errX: [0.51, 0.49], minorTicks: [10, 30, 50, 70, 90, 110],
  };
  const persY = { min: 0, max: 110, interval: 10, tick: 18, margin: 21, fs: 21, tickValues: [0, 20, 40, 60, 80, 100] };
  const persLabels = (zeroY: number, second: string, third?: string) => {
    graphic.push(TR("Perseverance (%)", 1615, zeroY - 108, { size: 22 }));
    graphic.push(T("Ctrl.", 1717, zeroY + 21, { size: 20 }));
    graphic.push(T(second, 1792, zeroY + 21, { size: 20 }));
    if (third) graphic.push(T(third, 1771, zeroY + 45, { size: 20 }));
  };
  barPanel(Object.assign({}, persCommon, {
    top: 196, height: 235, cats: ["Ctrl.", "10 Hz"], y: persY,
    groups: [Object.assign({ color: BLACK }, pers10Ctrl), Object.assign({ color: ORANGE }, pers10Stim)],
  }));
  persLabels(431, "10 Hz");
  barPanel(Object.assign({}, persCommon, {
    top: 507, height: 235, cats: ["Ctrl.", "MK/CDPPB"], y: persY,
    groups: [Object.assign({ color: BLACK }, persMkCtrl), Object.assign({ color: LAVENDER }, persMkStim)],
  }));
  persLabels(742, "MK/CDPPB");
  barPanel(Object.assign({}, persCommon, {
    top: 830, height: 235, cats: ["Ctrl.", "MK/CDPPB +10 Hz"], y: persY,
    groups: [Object.assign({ color: BLACK }, persMk10Ctrl), Object.assign({ color: PURPLE }, persMk10Stim)],
  }));
  persLabels(1065, "MK/CDPPB", "+10 Hz");

  // ======================= PANEL E =======================
  graphic.push(T("e", 1866, 27, { size: 50, bold: true, align: "left" }));
  graphic.push(R(1955, 58, 158, 53, PURPLE));
  graphic.push(T("MK801 /CDPPB", 2034, 77, { fill: "#fff", size: 21 }));
  graphic.push(T("+10 Hz", 2034, 98, { fill: "#fff", size: 21 }));
  graphic.push(R(1938, 367, 180, 36, GRAYBOX));
  graphic.push(T("Punished sessions", 2028, 385, { size: 20 }));
  graphic.push(TR("Perseverance (%)", 1873, 262, { size: 22 }));
  {
    const g = G({ left: 1958, top: 126, width: 164, height: 219 });
    const xi = hiddenX(g, 0.12, 9.1);
    const yi = leftY(g, { min: 0, max: 100, interval: 20, tick: 16, margin: 20, fs: 21 });
    series.push({
      type: "custom", xAxisIndex: xi, yAxisIndex: yi, z: 3, silent: true, renderItem: errItem(PURPLE, 0, 2.2),
      data: errData(eSessions, eVals, eErr), encode: { x: 0, y: [1, 2] },
      markLine: { silent: true, symbol: "none", label: { show: false }, lineStyle: { color: RED_ORANGE, width: 3, type: "solid" }, data: eStimLines.map((x) => ({ xAxis: x })) },
    });
    [[0, 3], [3, 6], [6, 9]].forEach(([s, e]) => {
      series.push({
        type: "line", xAxisIndex: xi, yAxisIndex: yi, z: 4, silent: true, clip: false,
        data: zip(eSessions.slice(s, e), eVals.slice(s, e)), symbol: "circle", symbolSize: 14, showSymbol: true,
        itemStyle: { color: PURPLE }, lineStyle: { color: PURPLE, width: 2.5 },
      });
    });
  }

  return { animation: false, backgroundColor: "#fff", textStyle: { fontFamily: F }, grid, xAxis, yAxis, series, graphic: { elements: graphic } };
}

export default function App() {
  const ref = useRef<HTMLDivElement>(null);
  useEffect(() => {
    const chart = echarts.init(ref.current as HTMLDivElement, null, { renderer: "svg", width: 2125, height: 1327 });
    chart.setOption(buildOption() as any);
    return () => chart.dispose();
  }, []);
  return <div ref={ref} style={{ position: "absolute", left: 0, top: 0, width: 2125, height: 1327, background: "#fff" }} />;
}
